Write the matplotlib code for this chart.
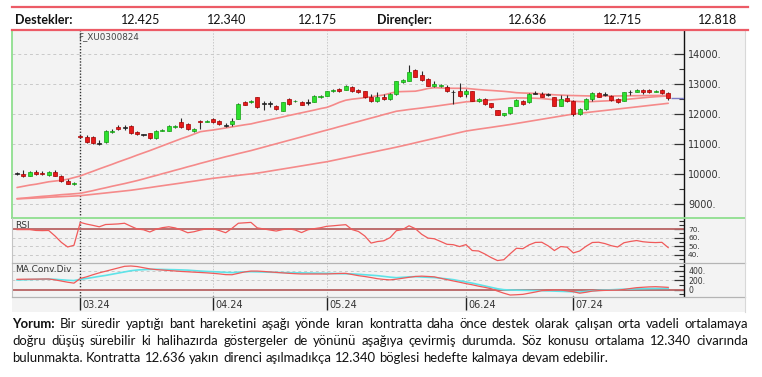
import matplotlib
matplotlib.use('Agg')
import matplotlib.pyplot as plt
from matplotlib.patches import Rectangle
from matplotlib.lines import Line2D
from matplotlib import transforms
import numpy as np

# ---------------- data ----------------
supports = ['12.425', '12.340', '12.175']
resistances = ['12.636', '12.715', '12.818']

opens = [10010,10000,9945,10056,10040,9950,10056,9920,9755,9665,
         11270,11245,11222,11010,11055,11390,11578,11560,11611,11390,
         11300,11356,11190,11430,11445,11560,11720,11667,11420,11780,
         11740,11833,11778,11610,11667,11833,12389,12390,12556,12345,
         12330,12278,12111,12500,12420,12390,12380,12411,12560,12611,
         12760,12830,12800,12911,12800,12756,12556,12420,12580,12500,
         12667,13070,13111,13467,13311,13167,12950,12920,12889,12740,
         12778,12667,12756,12440,12500,12356,12133,11980,12020,12278,
         12445,12390,12680,12667,12650,12556,12278,12533,12445,11990,
         12167,12500,12690,12640,12611,12500,12445,12720,12745,12800,
         12800,12740,12800,12700]
highs = [10050,10130,10100,10130,10090,10100,10120,9950,9830,9730,
         11290,11300,11250,11130,11470,11500,11620,11640,11640,11420,
         11320,11380,11460,11500,11640,11630,11870,11690,11520,11790,
         11790,11860,11800,11690,11870,12360,12420,12470,12580,12430,
         12420,12300,12400,12530,12470,12420,12500,12640,12640,12780,
         12830,12860,12970,12940,12830,12780,12670,12720,12670,12690,
         13110,13160,13644,13500,13440,13200,13090,13010,12980,12800,
         13022,12830,12780,12530,12530,12380,12150,12050,12240,12490,
         12470,12690,12760,12720,12690,12580,12640,12640,12470,12190,
         12520,12720,12720,12720,12650,12520,12740,12800,12830,12830,
         12830,12800,12830,12720]
lows = [9960,9910,9930,9980,9970,9930,9920,9740,9650,9640,
        11230,11020,11000,10970,11030,11370,11480,11450,11340,11300,
        11270,11180,11180,11420,11440,11540,11540,11480,11400,11500,
        11720,11700,11650,11560,11610,11820,12290,12370,12200,12130,
        12240,12150,12090,12300,12400,12290,12300,12390,12540,12600,
        12740,12740,12790,12740,12700,12540,12400,12390,12480,12470,
        12650,13050,13100,13230,13100,12930,12900,12900,12740,12333,
        12580,12560,12420,12390,12310,12200,11960,11940,12000,12260,
        12310,12370,12660,12560,12600,12260,12260,12400,11950,11970,
        12150,12450,12560,12610,12440,12370,12430,12650,12730,12670,
        12700,12720,12670,12467]
closes = [9990,9945,10078,10000,9990,10050,9945,9755,9670,9700,
          11240,11055,11033,10995,11445,11445,11500,11540,11356,11320,
          11290,11200,11445,11470,11611,11610,11556,11500,11500,11730,
          11770,11722,11667,11600,11778,12333,12310,12445,12222,12330,
          12340,12170,12389,12333,12445,12300,12390,12611,12610,12756,
          12800,12760,12945,12756,12720,12556,12422,12556,12500,12667,
          13089,13133,13389,13245,13133,12945,13000,12980,12756,12720,
          12611,12778,12445,12490,12333,12222,11978,12020,12222,12467,
          12333,12667,12700,12580,12640,12278,12500,12422,12000,12167,
          12500,12690,12580,12630,12467,12390,12722,12730,12800,12722,
          12722,12770,12690,12530]

ma_a = [9550,9590,9630,9660,9700,9740,9765,9790,9825,9880,
        9935,10015,10090,10170,10245,10320,10400,10475,10550,10630,
        10705,10780,10860,10940,11020,11100,11180,11250,11330,11410,
        11440,11467,11500,11535,11570,11605,11640,11670,11720,11765,
        11810,11855,11900,11950,11995,12040,12085,12130,12180,12220,
        12300,12390,12460,12495,12518,12545,12575,12605,12635,12690,
        12740,12748,12754,12760,12800,12850,12877,12868,12860,12857,
        12857,12857,12835,12815,12798,12785,12770,12755,12735,12710,
        12700,12693,12685,12670,12655,12640,12630,12620,12615,12610,
        12605,12600,12600,12600,12600,12602,12605,12608,12610,12612,
        12615,12617,12620,12620]
ma_b = [9180,9195,9215,9235,9255,9270,9290,9310,9325,9340,
        9357,9400,9445,9495,9540,9590,9635,9680,9730,9780,
        9835,9895,9950,10010,10065,10125,10180,10240,10295,10355,
        10410,10467,10520,10575,10625,10680,10730,10780,10837,10894,
        10951,11008,11065,11122,11179,11236,11293,11350,11408,11465,
        11520,11580,11635,11695,11750,11808,11865,11920,11980,12035,
        12092,12120,12150,12175,12200,12228,12255,12285,12315,12345,
        12375,12405,12420,12437,12455,12470,12487,12505,12523,12535,
        12535,12530,12525,12515,12495,12475,12455,12440,12425,12415,
        12410,12415,12425,12435,12445,12455,12475,12500,12520,12540,
        12560,12575,12590,12600]
ma_c = [9170,9180,9190,9200,9210,9225,9235,9245,9255,9265,
        9277,9300,9322,9345,9367,9390,9412,9435,9458,9487,
        9518,9548,9580,9610,9640,9670,9700,9732,9762,9793,
        9825,9856,9880,9905,9930,9955,9980,10003,10030,10062,
        10097,10132,10166,10200,10235,10270,10305,10340,10375,10408,
        10452,10496,10540,10585,10630,10675,10718,10763,10807,10850,
        10895,10942,10990,11040,11090,11138,11187,11235,11285,11333,
        11382,11430,11463,11495,11525,11555,11587,11618,11650,11685,
        11720,11755,11790,11825,11860,11895,11930,11965,12000,12024,
        12047,12071,12095,12118,12142,12166,12190,12213,12237,12261,
        12285,12309,12332,12357]

rsi = [69.5,69.5,69.5,68.5,68.3,68.5,62,54.5,49,51,
       78,76,74.5,72.8,75.5,75.8,76.2,77,73.5,70.2,
       69.3,66.7,70,71.8,72.8,71.5,69,65.8,67,69,
       70.4,70.4,68.4,65.8,71,77,77.5,78,71.5,70.3,
       69,67.8,69.5,70.4,69,66,69.3,70.6,71.7,73.4,
       74,74.7,75.3,69.5,67.3,62,53.6,55.4,56.3,60,
       68.2,69.6,74,70.6,64,59.5,58.7,55.5,52.2,51.7,
       49.5,51.8,44.8,44.3,40.7,36.5,33,34,41,47.5,
       47,51.5,54.4,54.6,50.4,44.8,49.5,48.8,42,44.3,
       49.8,54.3,54.6,53,50.5,49,54,55.5,56.6,55.2,
       54.5,54.2,54.5,48.3]

macd = [222,224,225,226,228,229,210,185,160,140,
        240,275,320,360,395,430,465,500,507,495,
        470,445,430,420,410,400,390,383,375,368,
        360,350,338,322,320,350,380,398,398,390,
        380,370,360,350,342,336,336,336,336,336,
        342,347,350,325,300,282,260,235,220,210,
        225,245,265,283,290,283,275,245,215,187,
        160,130,105,75,50,20,-30,-75,-114,-108,
        -100,-75,-50,-20,-15,-10,-8,-25,-43,-75,
        -55,-30,-20,-15,-12,-8,5,25,43,52,
        60,64,58,50]
signal = [207,212,217,221,225,228,222,212,202,195,
          222,240,262,285,305,330,355,380,405,421,
          428,434,436,433,430,427,423,418,408,398,
          390,385,378,370,365,375,382,385,382,378,
          374,370,367,364,362,360,357,354,352,350,
          347,343,340,337,330,320,310,300,285,268,
          257,265,275,279,272,265,260,245,232,215,
          190,165,140,110,80,50,20,0,-7,-10,
          -13,-16,-19,-21,-25,-30,-35,-40,-45,-50,
          -38,-25,-15,-7,-2,5,10,14,18,21,
          24,26,28,29]

date_labels = ['03.24', '04.24', '05.24', '06.24', '07.24']
date_idx = [10, 31, 49, 71, 88]
contract_label = 'F_XU0300824'

comment_lines = [
    "Yorum: Bir süredir yaptığı bant hareketini aşağı yönde kıran kontratta daha önce destek olarak çalışan orta vadeli ortalamaya",
    "doğru düşüş sürebilir ki halihazırda göstergeler de yönünü aşağıya çevirmiş durumda. Söz konusu ortalama 12.340 civarında",
    "bulunmakta. Kontratta 12.636 yakın direnci aşılmadıkça 12.340 böglesi hedefte kalmaya devam edebilir.",
]

# ---------------- figure ----------------
W, H = 762, 377
fig = plt.figure(figsize=(W / 100, H / 100), dpi=100)
fig.patch.set_facecolor('white')
BG = '#f3f3f3'
TXT = '#333333'


def fx(x):
    return x / W


def fy(y):
    return 1 - y / H


def fig_line(x0, y0, x1, y1, color, lw=1.0, ls='-', z=5):
    fig.add_artist(Line2D([fx(x0), fx(x1)], [fy(y0), fy(y1)], transform=fig.transFigure,
                          color=color, lw=lw, ls=ls, zorder=z))


fig.add_artist(Rectangle((fx(12), fy(312)), (745 - 12) / W, (312 - 30) / H,
                         transform=fig.transFigure, facecolor=BG, edgecolor='none', zorder=-10))

XLIM = (-0.8, 105.5)


def add_ax(x0, y0, x1, y1, lab_fs):
    ax = fig.add_axes([fx(x0), fy(y1), (x1 - x0) / W, (y1 - y0) / H])
    ax.set_facecolor(BG)
    for s in ['top', 'left', 'bottom']:
        ax.spines[s].set_visible(False)
    ax.spines['right'].set_color('#111111')
    ax.spines['right'].set_linewidth(1.0)
    ax.yaxis.tick_right()
    ax.tick_params(axis='y', which='major', direction='in', length=7, width=0.9,
                   color='#333333', labelsize=lab_fs, labelcolor=TXT, pad=3)
    ax.tick_params(axis='y', which='minor', direction='in', length=3.5, width=0.8, color='#333333')
    ax.set_xlim(*XLIM)
    ax.set_xticks([])
    return ax


grid_kw = dict(color='#c9c9c9', lw=0.7, ls=(0, (3, 3)), zorder=1)
vgrid_kw = dict(color='#c9c9c9', lw=0.7, ls=(0, (1.5, 1.5)), zorder=1)
contract_kw = dict(color='#333333', lw=1.0, ls=(0, (1, 1.2)), zorder=2)

# ---- main price panel ----
ax = add_ax(12, 31, 684, 218, 7)
ax.set_ylim(8533, 14767)
price_ticks = [9000, 10000, 11000, 12000, 13000, 14000]
for v in price_ticks:
    ax.axhline(v, **grid_kw)
for d in date_idx[1:]:
    ax.axvline(d, **vgrid_kw)
ax.axvline(date_idx[0], **contract_kw)
ax.set_yticks(price_ticks)
ax.set_yticklabels([f'{v}.' for v in price_ticks])
ax.set_yticks([9500, 10500, 11500, 12500, 13500], minor=True)

idx = np.arange(len(opens))
ma_col = '#f58a8a'
for ma in (ma_a, ma_b, ma_c):
    ax.plot(idx, ma, color=ma_col, lw=1.2, zorder=2, solid_capstyle='round')

for i in idx:
    o, h, l, c = opens[i], highs[i], lows[i], closes[i]
    if abs(c - o) <= 20:
        fc, ec = '#222222', '#222222'
    elif c > o:
        fc, ec = '#2ee02e', '#13a013'
    else:
        fc, ec = '#e51b1b', '#a50000'
    ax.vlines(i, l, h, color='#2a2a2a', lw=0.8, zorder=3)
    ax.add_patch(Rectangle((i - 0.32, min(o, c)), 0.64, max(abs(c - o), 30),
                           facecolor=fc, edgecolor=ec, lw=0.5, zorder=4))
ax.hlines(closes[-1], idx[-1] + 0.4, XLIM[1], color='#7b7bc4', lw=1.0, zorder=3)

# ---- RSI panel ----
axr = add_ax(12, 219, 684, 262, 5.3)
axr.set_ylim(31.3, 82)
for v in (40, 50, 60):
    axr.axhline(v, **grid_kw)
for d in date_idx[1:]:
    axr.axvline(d, **vgrid_kw)
axr.axvline(date_idx[0], **contract_kw)
axr.axhline(70, color='#b86464', lw=1.3, zorder=2)
axr.plot(idx, rsi, color='#f05a5a', lw=0.9, zorder=3)
axr.set_yticks([40, 50, 60, 70])
axr.set_yticklabels(['40.', '50.', '60.', '70.'])
axr.set_yticks([35, 45, 55, 65, 75, 80], minor=True)

# ---- MACD panel ----
axm = add_ax(12, 263, 684, 296, 5.6)
axm.set_ylim(-135, 571)
for v in (200, 400):
    axm.axhline(v, **grid_kw)
for d in date_idx[1:]:
    axm.axvline(d, **vgrid_kw)
axm.axvline(date_idx[0], **contract_kw)
axm.axhline(0, color='#b86464', lw=1.3, zorder=2)
axm.plot(idx, signal, color='#5fe3e8', lw=1.2, zorder=3)
axm.plot(idx, macd, color='#f05a5a', lw=0.9, zorder=4)
axm.set_yticks([0, 200, 400])
axm.set_yticklabels(['0', '200.', '400.'])
axm.set_yticks([-100, 100, 300, 500], minor=True)

# date axis
axm.set_xticks(date_idx)
axm.tick_params(axis='x', direction='out', length=10, width=1.0, color='#222222',
                labelbottom=False)
date_tr = transforms.offset_copy(axm.get_xaxis_transform(), fig=fig, x=2.5, y=-9, units='dots')
for d, lab in zip(date_idx, date_labels):
    axm.text(d, 0, lab, transform=date_tr, ha='left', va='center', fontsize=7, color=TXT)

# panel labels
fig.text(fx(15), fy(225.5), 'RSI', fontsize=6.5, color=TXT, va='center', ha='left')
fig.text(fx(15), fy(269.5), 'MA.Conv.Div', fontsize=6.5, color=TXT, va='center', ha='left')
fig.text(fx(78), fy(36.5), contract_label, fontsize=6.3, color='#444444', va='center', ha='left')

# frame lines
fig_line(12, 218, 745, 218, '#8fdf8f', lw=1.3)
fig_line(12, 30, 12, 218, '#8fdf8f', lw=1.3)
fig_line(12, 218, 12, 296, '#c4c4c4', lw=0.8)
fig_line(12, 262.5, 745, 262.5, '#b4b4b4', lw=0.9)
fig_line(12, 296.5, 745, 296.5, '#b4b4b4', lw=0.9)
fig_line(745, 30, 745, 312, '#d8d8d8', lw=0.8)

# header
fig_line(12, 6.5, 748, 6.5, '#ec5b66', lw=1.6)
fig_line(12, 30, 748, 30, '#ec5b66', lw=1.6)
hdr = dict(fontsize=9, family='Lato', va='center', color='#111111')
fig.text(fx(15), fy(19.5), 'Destekler:', fontweight='bold', ha='left', **hdr)
fig.text(fx(377), fy(19.5), 'Dirençler:', fontweight='bold', ha='left', **hdr)
for xc, s in zip((140.5, 227, 318), supports):
    fig.text(fx(xc), fy(19.5), s, ha='center', **hdr)
for xc, s in zip((528, 623, 718), resistances):
    fig.text(fx(xc), fy(19.5), s, ha='center', **hdr)

# comment text (justified)
renderer = fig.canvas.get_renderer()
fam = 'Lato'


def measure(s, fs, bold=False):
    t = fig.text(0, 0, s, fontsize=fs, family=fam, fontweight='bold' if bold else 'normal')
    w = t.get_window_extent(renderer=renderer).width
    t.remove()
    return w


base = 10.0
w3 = measure(comment_lines[2], base)
fs = base * (610 - 12) / w3
ys = [324.5, 341, 357.5]
for k, (line, yc) in enumerate(zip(comment_lines, ys)):
    words = line.split(' ')
    bolds = [k == 0 and j == 0 for j in range(len(words))]
    widths = [measure(wd, fs, b) for wd, b in zip(words, bolds)]
    if k < 2:
        gap = ((748 - 12) - sum(widths)) / (len(words) - 1)
    else:
        gap = measure('a a', fs) - measure('aa', fs)
    x = 12
    for wd, b, wpx in zip(words, bolds, widths):
        fig.text(fx(x), fy(yc), wd, fontsize=fs, family=fam, fontweight='bold' if b else 'normal',
                 va='center', ha='left', color='#111111')
        x += wpx + gap

fig.savefig('out.png', dpi=100, facecolor='white')
